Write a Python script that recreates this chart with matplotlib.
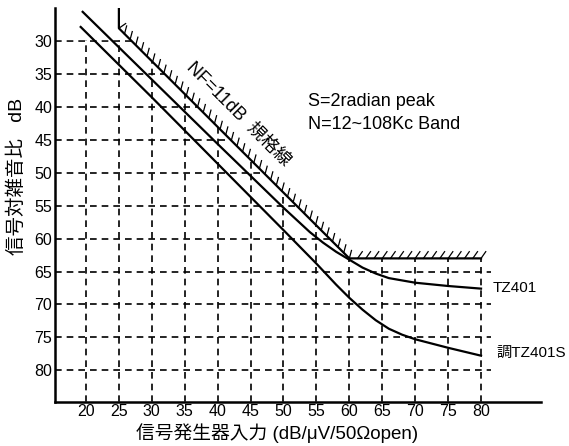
import numpy as np
import matplotlib
matplotlib.use('Agg')
import matplotlib.pyplot as plt
from matplotlib.patches import Polygon

plt.rcParams['font.family'] = ['Liberation Sans', 'Noto Sans CJK JP', 'DejaVu Sans']

# --- data ---
x_ticks = [20, 25, 30, 35, 40, 45, 50, 55, 60, 65, 70, 75, 80]
y_ticks = [30, 35, 40, 45, 50, 55, 60, 65, 70, 75, 80]

# NF = 11dB spec line (vertical, diagonal, flat)
nf_x = [25, 25, 60, 80]
nf_y = [25, 28, 63, 63]

tz401_x = [19.5, 30, 40, 50, 54, 56, 58, 60, 62, 64, 66, 70, 75, 80]
tz401_y = [25.5, 35.8, 45.6, 55.3, 59.0, 60.6, 62.0, 63.2, 64.4, 65.3, 66.0, 66.7, 67.2, 67.6]

tz401s_x = [19.2, 30, 40, 50, 55, 58, 60, 62, 64, 66, 68, 70, 75, 80]
tz401s_y = [27.8, 38.5, 48.6, 58.7, 63.8, 67.0, 69.0, 70.8, 72.4, 73.7, 74.6, 75.3, 76.6, 77.8]

# --- figure ---
fig = plt.figure(figsize=(5.69, 4.46), dpi=100, facecolor='white')
ax = fig.add_axes([0.0967, 0.0993, 0.854, 0.883])
ax.set_xlim(15.3, 89.1)
ax.set_ylim(84.8, 24.9)

for s in ['top', 'right']:
    ax.spines[s].set_visible(False)
ax.spines['left'].set_linewidth(1.8)
ax.spines['bottom'].set_linewidth(1.8)

ax.set_xticks(x_ticks)
ax.set_yticks(y_ticks)
ax.tick_params(length=0, labelsize=11.5, pad=2)

# grid only below the NF line
clip = Polygon([(15.3, 84.8), (15.3, 29.8), (26.8, 29.8), (60, 63),
                (82, 63), (82, 84.8)], closed=True, transform=ax.transData,
               facecolor='none', edgecolor='none')
ax.add_patch(clip)
for yv in y_ticks:
    ln, = ax.plot([15.3, 81.5], [yv, yv], color='black', lw=1.2,
                  linestyle=(0, (4, 3)), zorder=1)
    ln.set_clip_path(clip)
for xv in x_ticks:
    ln, = ax.plot([xv, xv], [84.8, 29.8], color='black', lw=1.2,
                  linestyle=(0, (4, 3)), zorder=1)
    ln.set_clip_path(clip)

# spec line + hatching
ax.plot(nf_x, nf_y, color='black', lw=1.6, zorder=3)
hl = 1.25
segs = [((25, 25.6), (25, 28), 35), ((25, 28), (60, 63), 75), ((60, 63), (80, 63), 55)]
for (x0, y0), (x1, y1), ang in segs:
    L = np.hypot(x1 - x0, y1 - y0)
    n = int(L / 1.2)
    dx = np.cos(np.radians(ang)) * hl
    dy = -np.sin(np.radians(ang)) * hl
    for t in np.linspace(0, 1, n + 1)[1:]:
        px = x0 + (x1 - x0) * t
        py = y0 + (y1 - y0) * t
        ax.plot([px, px + dx], [py, py + dy], color='black', lw=0.9, zorder=3)

ax.plot(tz401_x, tz401_y, color='black', lw=1.6, zorder=3)
ax.plot(tz401s_x, tz401s_y, color='black', lw=1.6, zorder=3)

ax.text(81.8, 67.5, 'TZ401', fontsize=11, ha='left', va='center')
ax.text(82.4, 77.4, '調TZ401S', fontsize=11, ha='left', va='center')
ax.text(53.7, 39.2, 'S=2radian peak', fontsize=13, ha='left', va='center')
ax.text(53.7, 42.7, 'N=12~108Kc Band', fontsize=13, ha='left', va='center')
ax.text(43.2, 41.0, 'NF=11dB  規格線', fontsize=13, ha='center', va='center',
        rotation=-45, rotation_mode='anchor')

fig.text(17 / 569, 1 - 176 / 446, '信号対雑音比   dB', rotation=90,
         fontsize=14, ha='center', va='center')
fig.text(277 / 569, 1 - 433 / 446, '信号発生器入力 (dB/μV/50Ωopen)',
         fontsize=13.5, ha='center', va='center')

fig.savefig('out.png', dpi=100, facecolor='white')
